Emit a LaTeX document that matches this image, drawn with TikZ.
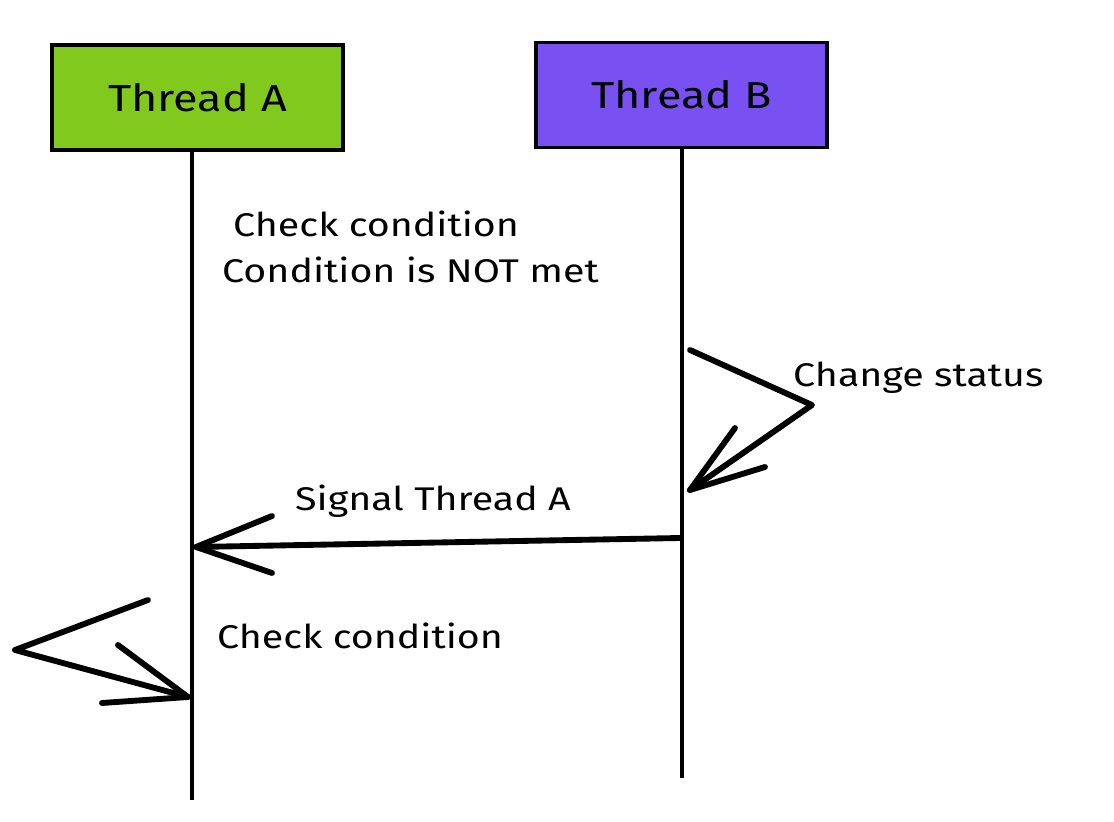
\documentclass[tikz,border=0pt]{standalone}
\usepackage{fontspec}
\setmainfont[FakeStretch=1.2]{Fira Sans}
\usetikzlibrary{calc}

\definecolor{boxgreen}{HTML}{82C91E}
\definecolor{boxviolet}{HTML}{7950F2}

\tikzset{
  threadbox/.style={draw=black, line width=2.8pt, minimum width=8.73cm, minimum height=3.15cm, font=\fontsize{32}{38}\selectfont},
  lifeline/.style={line width=3.5pt},
  msgline/.style={line width=5pt, line cap=round, line join=round},
  msgtext/.style={font=\fontsize{28}{39}\selectfont, inner sep=0pt}
}

\begin{document}
\begin{tikzpicture}[x=0.03cm, y=-0.03cm]
                \useasboundingbox (0, 0) rectangle (1114, 822);
                % thread boxes
                \node[threadbox, fill=boxgreen] (threadA) at (197.5, 97.5) {Thread A};
                \node[threadbox, fill=boxviolet] (threadB) at (681.5, 95) {Thread B};
                % lifelines
                \coordinate (endA) at (192, 800);
                \coordinate (endB) at (682, 778);
                \draw[lifeline] (threadA.south -| endA) -- (endA);
                \draw[lifeline] (threadB.south -| endB) -- (endB);
                % first check
                \node[msgtext, anchor=north west, align=left] (check1) at (222, 211) {\hspace{0.33cm}Check condition\\Condition is NOT met};
                % change status on B
                \coordinate (statusStart) at (690, 350);
                \coordinate (statusTurn) at (812, 405);
                \coordinate (statusEnd) at (690, 490);
                \draw[msgline] (statusStart) -- (statusTurn) -- (statusEnd);
                \draw[msgline] (735, 428) -- (statusEnd) -- (765, 467);
                \node[msgtext, anchor=west] (status) at (793, 378) {Change status};
                % signal from B to A
                \coordinate (signalStart) at (680, 538);
                \coordinate (signalEnd) at (196, 547);
                \draw[msgline] (signalStart) -- (signalEnd);
                \draw[msgline] (272, 516) -- (signalEnd) -- (272, 573);
                \node[msgtext, anchor=west] (signal) at (295, 501) {Signal Thread A};
                % second check on A
                \coordinate (checkStart) at (148, 600);
                \coordinate (checkTurn) at (15, 650);
                \coordinate (checkEnd) at (188, 697);
                \draw[msgline] (checkStart) -- (checkTurn) -- (checkEnd);
                \draw[msgline] (118, 645) -- (checkEnd) -- (102, 703);
                \node[msgtext, anchor=west] (check2) at (217, 636) {Check condition};
            \end{tikzpicture}
\end{document}
